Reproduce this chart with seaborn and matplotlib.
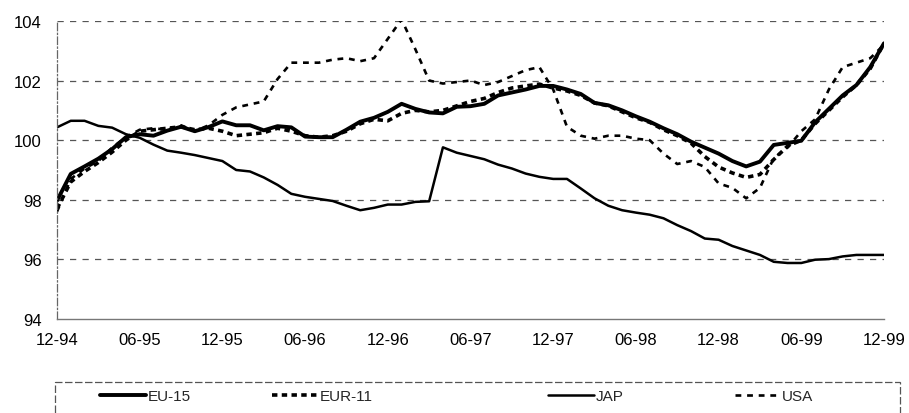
import numpy as np
import pandas as pd
import seaborn as sns
import matplotlib.pyplot as plt
from matplotlib.patches import Rectangle

# monthly index values, 12-94 .. 12-99 (61 points)
eu15 = [97.97, 98.87, 99.12, 99.38, 99.70, 100.10, 100.20, 100.15, 100.32, 100.45,
        100.30, 100.44, 100.63, 100.50, 100.50, 100.33, 100.47, 100.43, 100.12, 100.10,
        100.10, 100.35, 100.62, 100.75, 100.95, 101.22, 101.05, 100.93, 100.90, 101.12,
        101.14, 101.22, 101.50, 101.60, 101.70, 101.82, 101.82, 101.70, 101.55, 101.25,
        101.17, 101.00, 100.80, 100.62, 100.40, 100.20, 99.95, 99.75, 99.55, 99.30,
        99.12, 99.28, 99.84, 99.91, 99.98, 100.60, 101.05, 101.50, 101.85, 102.45,
        103.25]
eur11 = [97.70, 98.60, 98.95, 99.25, 99.60, 100.00, 100.30, 100.35, 100.40, 100.45,
         100.35, 100.40, 100.30, 100.15, 100.20, 100.25, 100.40, 100.30, 100.15, 100.10,
         100.15, 100.30, 100.55, 100.70, 100.65, 100.90, 101.00, 100.95, 101.00, 101.15,
         101.30, 101.40, 101.60, 101.75, 101.82, 101.88, 101.75, 101.65, 101.50, 101.25,
         101.15, 100.95, 100.75, 100.60, 100.35, 100.15, 99.90, 99.45, 99.10, 98.90,
         98.75, 98.85, 99.35, 99.80, 100.00, 100.55, 101.00, 101.45, 101.85, 102.40,
         103.25]
jap = [100.43, 100.65, 100.65, 100.48, 100.42, 100.20, 100.08, 99.85, 99.65, 99.58,
       99.50, 99.40, 99.30, 99.00, 98.95, 98.75, 98.50, 98.20, 98.10, 98.03,
       97.96, 97.80, 97.65, 97.73, 97.84, 97.84, 97.93, 97.95, 99.76, 99.58,
       99.47, 99.36, 99.18, 99.05, 98.88, 98.77, 98.70, 98.70, 98.38, 98.05,
       97.80, 97.65, 97.57, 97.50, 97.38, 97.15, 96.95, 96.70, 96.66, 96.45,
       96.30, 96.15, 95.92, 95.88, 95.88, 95.99, 96.01, 96.10, 96.15, 96.15,
       96.15]
usa = [97.60, 98.70, 99.05, 99.30, 99.75, 100.10, 100.35, 100.40, 100.35, 100.50,
       100.30, 100.50, 100.85, 101.10, 101.20, 101.30, 102.05, 102.60, 102.60, 102.60,
       102.70, 102.75, 102.65, 102.75, 103.40, 104.05, 103.05, 102.00, 101.90, 101.95,
       102.00, 101.85, 101.95, 102.15, 102.35, 102.45, 101.70, 100.45, 100.15, 100.05,
       100.15, 100.15, 100.05, 100.00, 99.55, 99.20, 99.30, 99.10, 98.55, 98.40,
       98.05, 98.40, 99.40, 99.75, 100.30, 100.70, 101.70, 102.45, 102.60, 102.75,
       103.20]

tick_labels = ["12-94", "06-95", "12-95", "06-96", "12-96", "06-97",
               "12-97", "06-98", "12-98", "06-99", "12-99"]

months = np.arange(len(eu15))
df = pd.DataFrame({"month": months, "EU-15": eu15, "EUR-11": eur11,
                   "JAP": jap, "USA": usa})

sns.set_style("white")
plt.rcParams["font.family"] = ["Liberation Sans", "DejaVu Sans"]

fig = plt.figure(figsize=(9.09, 4.14), dpi=100)
ax = fig.add_axes([0.0627, 0.227, 0.9098, 0.72])

sns.lineplot(data=df, x="month", y="EU-15", ax=ax, color="black", lw=2.8, label="EU-15")
sns.lineplot(data=df, x="month", y="EUR-11", ax=ax, color="black", lw=2.6,
             label="EUR-11").lines[-1].set_dashes((1.5, 1.2))
sns.lineplot(data=df, x="month", y="JAP", ax=ax, color="black", lw=1.8, label="JAP")
sns.lineplot(data=df, x="month", y="USA", ax=ax, color="black", lw=1.9,
             label="USA").lines[-1].set_dashes((2.2, 2.2))

ax.set_xlim(0, 60)
ax.set_ylim(94, 104)
ax.set_xticks(range(0, 61, 6))
ax.set_xticklabels(tick_labels)
ax.set_yticks(range(94, 105, 2))
ax.set_xlabel("")
ax.set_ylabel("")
ax.tick_params(axis="both", labelsize=12, colors="black", length=0)
ax.tick_params(axis="y", pad=11)
ax.tick_params(axis="x", pad=9)

for v in range(96, 105, 2):
    ax.axhline(v, color="#555555", lw=0.9, ls=(0, (5, 5)), zorder=0)

for s in ["top", "right"]:
    ax.spines[s].set_visible(False)
ax.spines["left"].set_color("#666666")
ax.spines["left"].set_linewidth(0.9)
ax.spines["left"].set_linestyle((0, (6, 2, 1, 2)))
ax.spines["bottom"].set_color("#777777")
ax.spines["bottom"].set_linewidth(1.0)

# legend: one entry per slot, placed like the original layout
handles, labels = ax.get_legend_handles_labels()
ax.legend_.remove()
slots = [100, 272, 548, 735]
for h, lab, x0 in zip(handles, labels, slots):
    fig.legend([h], [lab], loc="center left", bbox_to_anchor=(x0 / 909, 0.04),
               frameon=False, fontsize=11, handlelength=3.0, handletextpad=0.1,
               borderpad=0, borderaxespad=0)
fig.patches.append(Rectangle((0.06, -0.02), 0.93, 0.095, transform=fig.transFigure,
                             fill=False, edgecolor="#555555", lw=0.9,
                             linestyle=(0, (6, 2))))

fig.savefig("out.png", dpi=100)
